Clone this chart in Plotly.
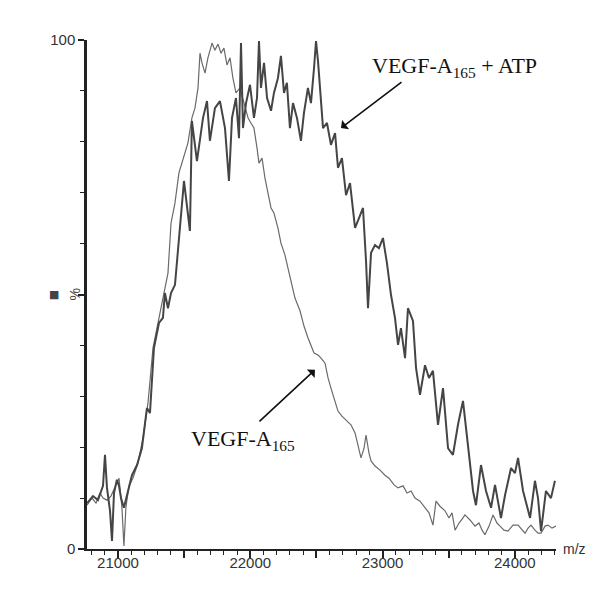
import plotly.graph_objects as go

# VEGF-A165 (narrower, lighter trace)
mz_a = [20766, 20803, 20834, 20864, 20887, 20917, 20947, 20977, 21008, 21030, 21045, 21060,
        21083, 21113, 21151, 21189, 21227, 21265, 21295, 21325, 21355, 21378, 21401, 21431,
        21461, 21499, 21529, 21559, 21582, 21605, 21620, 21635, 21658, 21680, 21711, 21733,
        21756, 21779, 21801, 21824, 21847, 21869, 21892, 21922, 21952, 21983, 22005, 22028,
        22051, 22066, 22089, 22111, 22134, 22157, 22179, 22209, 22232, 22262, 22285, 22308,
        22338, 22376, 22406, 22436, 22459, 22482, 22512, 22535, 22565, 22588, 22610, 22633,
        22663, 22693, 22724, 22761, 22792, 22814, 22837, 22860, 22875, 22897, 22913, 22943,
        22981, 23018, 23049, 23087, 23117, 23155, 23185, 23215, 23245, 23283, 23321, 23351,
        23381, 23404, 23434, 23472, 23502, 23525, 23548, 23578, 23608, 23623, 23661, 23699,
        23729, 23752, 23774, 23805, 23835, 23865, 23888, 23918, 23948, 23986, 24024, 24054,
        24077, 24100, 24122, 24152, 24175, 24198, 24228, 24250, 24281, 24311]
int_a = [8.6, 10.0, 9.0, 11.0, 10.0, 9.6, 10.4, 12.0, 13.9, 8.1, 0.6, 8.1,
         12.4, 13.9, 16.9, 21.8, 28.7, 39.5, 43.4, 47.3, 51.3, 54.2, 64.0, 68.0,
         73.9, 77.4, 79.8, 84.7, 86.6, 90.6, 97.4, 95.5, 93.5, 96.5, 99.4, 98.0,
         99.2, 97.4, 98.4, 95.1, 96.5, 92.5, 89.6, 90.6, 87.6, 84.7, 83.7, 82.7,
         78.8, 75.8, 76.8, 72.9, 69.9, 67.0, 66.0, 63.1, 60.1, 57.8, 55.2, 52.7,
         49.3, 46.8, 43.8, 41.5, 40.1, 38.5, 38.1, 37.5, 36.5, 33.6, 31.6, 29.7,
         27.1, 26.1, 25.3, 24.4, 22.8, 20.4, 17.9, 19.8, 22.4, 18.9, 17.3, 16.3,
         15.5, 14.5, 13.9, 12.6, 12.0, 12.4, 11.0, 11.4, 10.0, 9.4, 8.1, 7.1,
         4.7, 9.4, 8.4, 7.5, 6.1, 7.1, 3.7, 5.1, 6.1, 6.7, 5.7, 4.5,
         5.1, 3.7, 2.8, 4.5, 6.7, 5.1, 4.5, 3.7, 3.5, 4.7, 4.7, 3.7,
         3.1, 4.1, 4.7, 3.7, 3.1, 3.1, 4.5, 4.7, 4.1, 4.5]

# VEGF-A165 + ATP (broader, darker trace)
mz_b = [20766, 20811, 20849, 20887, 20902, 20917, 20940, 20955, 20970, 20992, 21008, 21023,
        21045, 21068, 21106, 21144, 21181, 21219, 21242, 21272, 21310, 21340, 21355, 21378,
        21401, 21431, 21499, 21544, 21559, 21597, 21643, 21673, 21695, 21733, 21771, 21809,
        21839, 21862, 21892, 21915, 21930, 21945, 21968, 21998, 22028, 22051, 22066, 22081,
        22104, 22127, 22157, 22179, 22209, 22232, 22255, 22277, 22300, 22323, 22353, 22383,
        22406, 22436, 22459, 22482, 22497, 22512, 22535, 22550, 22580, 22610, 22641, 22663,
        22693, 22724, 22754, 22792, 22822, 22852, 22875, 22890, 22913, 22943, 22973, 23003,
        23033, 23064, 23094, 23117, 23139, 23170, 23192, 23230, 23253, 23283, 23321, 23351,
        23381, 23419, 23457, 23495, 23532, 23570, 23608, 23646, 23669, 23684, 23706, 23744,
        23782, 23820, 23850, 23873, 23895, 23926, 23971, 24001, 24024, 24062, 24092, 24115,
        24152, 24175, 24198, 24220, 24235, 24273, 24303]
int_b = [9.0, 10.4, 9.6, 12.4, 18.5, 12.0, 7.5, 1.6, 11.0, 13.6, 12.4, 10.0,
         8.1, 10.6, 14.5, 16.5, 19.8, 27.7, 26.7, 39.5, 44.4, 45.4, 50.3, 47.3,
         50.3, 51.9, 72.3, 62.5, 84.1, 76.2, 84.7, 88.0, 80.2, 86.6, 88.0, 82.7,
         72.3, 84.7, 88.6, 80.7, 99.4, 82.7, 87.6, 91.2, 84.7, 88.6, 99.8, 90.6,
         95.5, 88.6, 86.1, 89.6, 92.5, 96.9, 89.6, 91.6, 82.7, 87.6, 84.7, 80.2,
         85.7, 90.6, 87.6, 94.5, 99.8, 95.9, 88.6, 82.7, 83.7, 79.4, 81.7, 74.9,
         76.8, 69.5, 71.9, 63.1, 65.0, 67.0, 56.6, 47.3, 58.2, 59.7, 59.1, 61.1,
         56.2, 49.9, 45.4, 40.1, 43.4, 37.5, 47.3, 44.8, 35.6, 30.3, 36.1, 33.6,
         35.0, 24.4, 31.6, 19.8, 18.5, 24.4, 29.1, 19.8, 13.9, 11.4, 8.6, 16.5,
         11.4, 8.1, 12.6, 9.0, 6.1, 10.6, 15.9, 14.9, 17.9, 11.4, 8.1, 6.1,
         13.4, 10.0, 3.5, 9.0, 11.4, 10.0, 13.4]

x_ticks = [21000, 21500, 22000, 22500, 23000, 23500, 24000]
x_ticktext = ["21000", "", "22000", "", "23000", "", "24000"]
y_ticks = [0, 50, 100]
y_ticktext = ["0", "", "100"]

label_atp = "VEGF-A<sub>165</sub> + ATP"
label_plain = "VEGF-A<sub>165</sub>"

fig = go.Figure()
fig.add_trace(go.Scatter(x=mz_a, y=int_a, mode="lines",
                         line=dict(color="#6a6a6a", width=1.2), showlegend=False))
fig.add_trace(go.Scatter(x=mz_b, y=int_b, mode="lines",
                         line=dict(color="#454545", width=2), showlegend=False))

tick_font = dict(family="Liberation Sans, Arial, sans-serif", size=15, color="#333333")

fig.update_layout(
    width=600, height=592,
    margin=dict(l=79, r=52, t=32, b=51),
    paper_bgcolor="white", plot_bgcolor="white",
    xaxis=dict(range=[20766, 24311], showgrid=False, zeroline=False,
               showline=True, linecolor="#222222", linewidth=2,
               ticks="outside", ticklen=7, tickwidth=1.5, tickcolor="#222222",
               tickvals=x_ticks, ticktext=x_ticktext, tickfont=tick_font,
               ticklabelstandoff=-8,
               minor=dict(dtick=100, ticklen=4, tickcolor="#222222", ticks="outside", tickwidth=1.2)),
    yaxis=dict(range=[0, 100], showgrid=False, zeroline=False,
               showline=True, linecolor="#222222", linewidth=2.5,
               ticks="outside", ticklen=6, tickwidth=1.5, tickcolor="#222222",
               tickvals=y_ticks, ticktext=y_ticktext, tickfont=tick_font,
               minor=dict(dtick=10, ticklen=4, tickcolor="#222222", ticks="outside", tickwidth=1.2)),
)

ann_font = dict(family="Liberation Serif, Times New Roman, serif", size=22, color="#111111")

# arrows
fig.add_annotation(x=22686, y=82.7, xref="x", yref="y", text="", showarrow=True,
                   ax=62, ay=-47, arrowhead=1, arrowsize=1.2, arrowwidth=1.6, arrowcolor="#111111")
fig.add_annotation(x=22489, y=35.2, xref="x", yref="y", text="", showarrow=True,
                   ax=-57, ay=53, arrowhead=1, arrowsize=1.2, arrowwidth=1.6, arrowcolor="#111111")
# labels
fig.add_annotation(x=23547, y=94.6, xref="x", yref="y", text=label_atp, showarrow=False,
                   font=ann_font)
fig.add_annotation(x=21945, y=21.4, xref="x", yref="y", text=label_plain, showarrow=False,
                   font=ann_font)

# axis labels
fig.add_annotation(x=0, y=0.5, xref="paper", yref="paper", xanchor="center", yanchor="middle",
                   text="%", textangle=-90, showarrow=False, xshift=-13,
                   font=dict(family="Liberation Sans, Arial, sans-serif", size=14, color="#444444"))
fig.add_annotation(x=0, y=0.5, xref="paper", yref="paper", xanchor="center", yanchor="middle",
                   text="■", showarrow=False, xshift=-33,
                   font=dict(family="DejaVu Sans, sans-serif", size=11, color="#444444"))
fig.add_annotation(x=1, y=0, xref="paper", yref="paper", xanchor="left", yanchor="middle",
                   text="m/z", showarrow=False, xshift=5,
                   font=dict(family="Liberation Sans, Arial, sans-serif", size=14, color="#333333"))

fig.write_html("out.html")
